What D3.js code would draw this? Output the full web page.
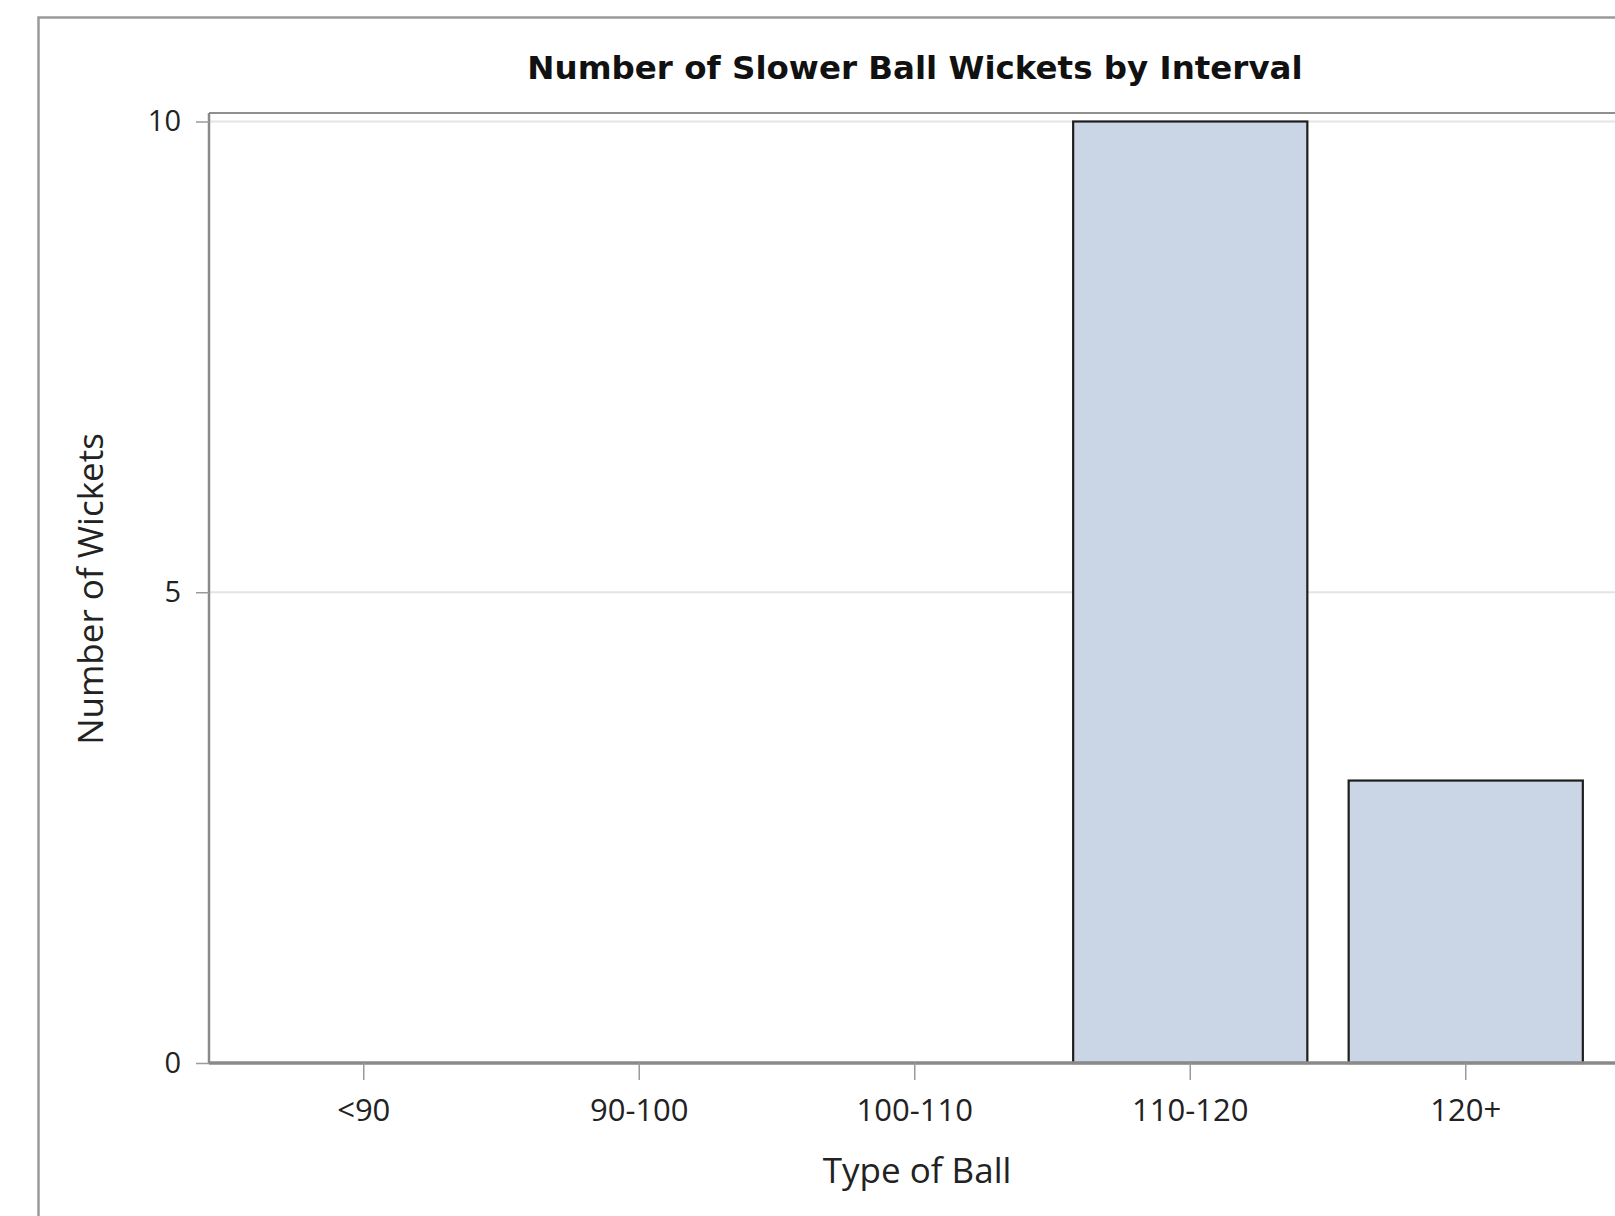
<!DOCTYPE html>
<html>
<head>
<meta charset="utf-8">
<script src="https://cdn.jsdelivr.net/npm/d3@7/dist/d3.min.js"></script>
<style>
  html, body { margin: 0; padding: 0; background: #fff; overflow: hidden; }
  svg { display: block; }
</style>
</head>
<body>
<svg id="chart" width="1615" height="1216"></svg>
<script>
const categories = ["<90", "90-100", "100-110", "110-120", "120+"];
const wickets = [0, 0, 0, 10, 3];
const yTicks = [0, 5, 10];
const chartTitle = "Number of Slower Ball Wickets by Interval";
const xTitle = "Type of Ball";
const yTitle = "Number of Wickets";

const svg = d3.select("#chart");
const W = 1615, H = 1216;

svg.append("rect").attr("x", 0).attr("y", 0).attr("width", W).attr("height", H).attr("fill", "#fff");

// outer frame (right and bottom lie outside the picture)
svg.append("rect")
  .attr("x", 38.5).attr("y", 17.5).attr("width", 1640).attr("height", 1260)
  .attr("fill", "none").attr("stroke", "#9a9a9a").attr("stroke-width", 2.5);

const plotLeft = 209, plotTop = 113, plotRight = 1640, plotBottom = 1063;

const x = d3.scaleBand().domain(categories).range([226, 1603.5])
  .paddingInner(0.15).paddingOuter(0.075);
const y = d3.scaleLinear().domain([0, 10]).range([1063, 121.5]);

// gridlines
svg.append("g").selectAll("line").data(yTicks.filter(d => d > 0)).join("line")
  .attr("x1", plotLeft).attr("x2", plotRight)
  .attr("y1", d => y(d)).attr("y2", d => y(d))
  .attr("stroke", "#e4e4e4").attr("stroke-width", 2);

// plot frame top
svg.append("line").attr("x1", plotLeft).attr("x2", plotRight)
  .attr("y1", plotTop).attr("y2", plotTop)
  .attr("stroke", "#8f8f8f").attr("stroke-width", 2);

// bars
svg.append("g").selectAll("rect").data(categories).join("rect")
  .attr("x", d => x(d))
  .attr("y", (d, i) => y(wickets[i]))
  .attr("width", x.bandwidth())
  .attr("height", (d, i) => y(0) - y(wickets[i]))
  .attr("fill", "#cad5e5")
  .attr("stroke", "#1e1e1e")
  .attr("stroke-width", 2.2);

// y axis
const yAxis = svg.append("g").attr("transform", `translate(${plotLeft},0)`)
  .call(d3.axisLeft(y).tickValues(yTicks).tickSize(13).tickPadding(15).tickFormat(d3.format("d")));
yAxis.select(".domain").attr("d", `M0,${plotTop}V${plotBottom}`).attr("stroke", "#8a8a8a").attr("stroke-width", 2.5);
yAxis.selectAll(".tick line").attr("stroke", "#9a9a9a").attr("stroke-width", 1.5);
yAxis.selectAll(".tick text").attr("font-family", "'Open Sans', sans-serif").attr("font-size", 29).attr("fill", "#222");

// x axis
const xAxis = svg.append("g").attr("transform", `translate(0,${plotBottom})`)
  .call(d3.axisBottom(x).tickSize(17).tickPadding(19));
xAxis.select(".domain").attr("d", `M${plotLeft},0H${plotRight}`).attr("stroke", "#8a8a8a").attr("stroke-width", 3.5);
xAxis.selectAll(".tick line").attr("stroke", "#9a9a9a").attr("stroke-width", 1.5);
xAxis.selectAll(".tick text").attr("font-family", "'Open Sans', sans-serif").attr("font-size", 31).attr("fill", "#222");

// titles
svg.append("text").attr("x", 915).attr("y", 79).attr("text-anchor", "middle")
  .attr("font-family", "'DejaVu Sans', sans-serif").attr("font-weight", "bold").attr("font-size", 32.5)
  .attr("fill", "#111").text(chartTitle);

svg.append("text").attr("x", 917).attr("y", 1183).attr("text-anchor", "middle")
  .attr("font-family", "'Open Sans', sans-serif").attr("font-size", 35)
  .attr("fill", "#222").text(xTitle);

svg.append("text").attr("transform", "translate(103,589) rotate(-90)").attr("text-anchor", "middle")
  .attr("font-family", "'Open Sans', sans-serif").attr("font-size", 35)
  .attr("fill", "#222").text(yTitle);
</script>
</body>
</html>
